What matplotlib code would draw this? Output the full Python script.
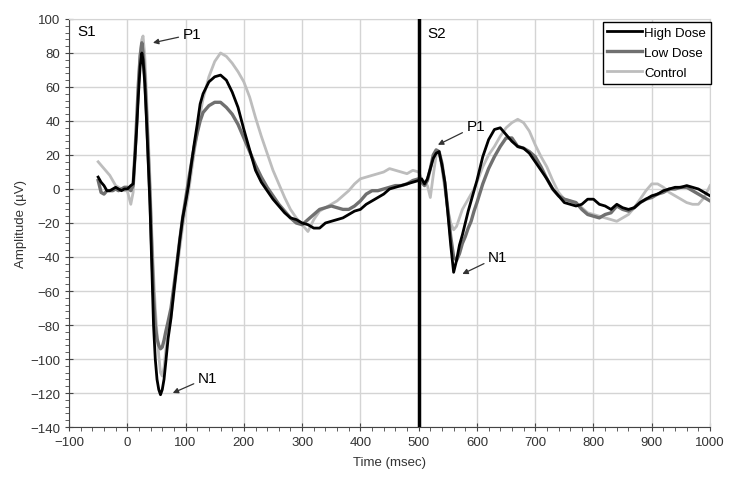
import matplotlib.pyplot as plt
from matplotlib.ticker import MultipleLocator

plt.rcParams["font.family"] = ["Liberation Sans", "DejaVu Sans"]

# time points (msec)
time_ms = (
    [-50, -45, -40, -35, -30, -25, -20, -15, -10, -5]
    + [0, 3, 6, 10, 13, 16, 19, 22, 25, 27, 30, 33, 36, 39, 42, 45, 48, 51, 54, 57, 60, 63, 66]
    + [70, 75, 80, 85, 90, 95, 100, 105, 110, 115, 120, 125, 130]
    + list(range(140, 500, 10))
    + list(range(500, 605, 5))
    + list(range(610, 1010, 10))
)

high_dose = (
    [7, 4, 2, -1, -1, 0, 1, 0, -1, 0]
    + [0, 1, 2, 3, 18, 35, 55, 72, 80, 76, 62, 40, 15, -10, -45, -80, -100, -112, -118, -121, -118, -112, -102]
    + [-88, -76, -60, -45, -30, -17, -8, 2, 15, 27, 38, 50, 56]
    + [63, 66, 67, 64, 57, 48, 35, 23, 11, 4,
       -1, -6, -10, -14, -17, -18, -20, -21, -23, -23,
       -20, -19, -18, -17, -15, -13, -12, -9, -7, -5,
       -3, 0, 1, 2, 3, 4]
    + [5, 6, 3, 6, 12, 18, 21, 22, 14, 4, -14, -33, -49, -42, -33, -27, -20, -13, -7, -1, 5]
    + [19, 29, 35, 36, 32, 28, 25, 24, 21, 16,
       11, 6, 0, -4, -8, -9, -10, -9, -6, -6,
       -9, -10, -12, -9, -11, -12, -11, -8, -6, -4,
       -3, -1, 0, 1, 1, 2, 1, 0, -2, -4]
)

low_dose = (
    [5, -2, -3, -1, -1, -1, 0, -1, 0, 1]
    + [1, 0, -1, 2, 20, 40, 62, 78, 86, 80, 66, 45, 20, -5, -35, -62, -80, -88, -92, -94, -93, -89, -84]
    + [-78, -70, -57, -44, -30, -17, -6, 5, 15, 25, 33, 40, 45]
    + [49, 51, 51, 48, 44, 38, 30, 22, 14, 7,
       1, -4, -9, -13, -17, -20, -21, -18, -15, -12,
       -11, -10, -11, -12, -12, -10, -7, -3, -1, -1,
       0, 1, 2, 2, 3, 5]
    + [6, 4, 2, 5, 12, 20, 23, 22, 15, 3, -12, -28, -40, -42, -38, -32, -28, -23, -19, -13, -8]
    + [3, 12, 19, 25, 30, 30, 25, 24, 22, 19,
       13, 6, 0, -4, -6, -7, -8, -12, -15, -16,
       -17, -15, -14, -10, -12, -13, -11, -8, -6, -5,
       -3, -2, 0, 0, 1, 1, -1, -3, -5, -7]
)

control = (
    [16, 14, 12, 10, 8, 5, 2, 1, 0, -1]
    + [-1, -5, -9, -2, 15, 35, 60, 80, 88, 90, 78, 55, 30, 5, -25, -50, -70, -85, -98, -108, -110, -105, -95]
    + [-85, -75, -62, -48, -35, -22, -12, -2, 10, 22, 33, 44, 53]
    + [66, 75, 80, 78, 74, 69, 63, 54, 42, 31,
       21, 11, 3, -5, -12, -17, -21, -25, -18, -13,
       -11, -9, -7, -4, -1, 3, 6, 7, 8, 9,
       10, 12, 11, 10, 9, 11]
    + [10, 6, 4, 2, -5, 8, 20, 22, 12, 0, -12, -20, -24, -22, -17, -12, -9, -6, -3, 0, 4]
    + [13, 20, 25, 31, 36, 39, 41, 39, 34, 26,
       19, 13, 5, -2, -6, -7, -9, -11, -14, -15,
       -16, -17, -18, -19, -17, -15, -11, -6, -1, 3,
       3, 1, -2, -4, -6, -8, -9, -9, -5, 2]
)

fig = plt.figure(figsize=(7.32, 4.85), dpi=100)
ax = fig.add_axes([0.0943, 0.1175, 0.8757, 0.8413])

ax.plot(time_ms, control, color="#bdbdbd", lw=2.0, zorder=3, label="Control")
ax.plot(time_ms, low_dose, color="#707070", lw=2.4, zorder=4, label="Low Dose")
ax.plot(time_ms, high_dose, color="black", lw=2.0, zorder=5, label="High Dose")

# stimulus onset of S2
ax.axvline(500, color="black", lw=2.5, zorder=6)

ax.set_xlim(-100, 1000)
ax.set_ylim(-140, 100)
ax.xaxis.set_major_locator(MultipleLocator(100))
ax.xaxis.set_minor_locator(MultipleLocator(20))
ax.yaxis.set_major_locator(MultipleLocator(20))
ax.yaxis.set_minor_locator(MultipleLocator(4))
ax.grid(True, which="major", color="#d4d4d4", lw=1.0, zorder=0)
ax.tick_params(which="major", direction="inout", length=6, color="#444444",
               labelsize=9.5, labelcolor="#333333")
ax.tick_params(which="minor", direction="out", length=3, color="#444444")

for side in ("top", "right"):
    ax.spines[side].set_color("#d4d4d4")
for side in ("left", "bottom"):
    ax.spines[side].set_color("#444444")

ax.set_xlabel("Time (msec)", fontsize=9.5, color="#333333", labelpad=6)
ax.set_ylabel("Amplitude (\u00b5V)", fontsize=9.5, color="#333333", labelpad=2)

ax.text(-86, 93, "S1", fontsize=11, va="center")
ax.text(515, 92, "S2", fontsize=11, va="center")

arrow = dict(arrowstyle="-|>", color="#333333", lw=0.9, mutation_scale=8,
             shrinkA=1, shrinkB=0)
ax.annotate("P1", xy=(44, 86), xytext=(95, 91), fontsize=11, va="center", arrowprops=arrow)
ax.annotate("N1", xy=(78, -120), xytext=(121, -111), fontsize=11, va="center", arrowprops=arrow)
ax.annotate("P1", xy=(533, 26), xytext=(582, 37), fontsize=11, va="center", arrowprops=arrow)
ax.annotate("N1", xy=(575, -50), xytext=(619, -40), fontsize=11, va="center", arrowprops=arrow)

handles, labels = ax.get_legend_handles_labels()
leg = ax.legend(handles[::-1], labels[::-1], loc="upper right", fontsize=9.5,
                fancybox=False, framealpha=1, edgecolor="black", handlelength=2.6,
                handletextpad=0.2, borderpad=0.35, labelspacing=0.6,
                borderaxespad=0, bbox_to_anchor=(1.001, 0.993))
leg.get_frame().set_linewidth(1.0)

fig.savefig("out.png", dpi=100)
